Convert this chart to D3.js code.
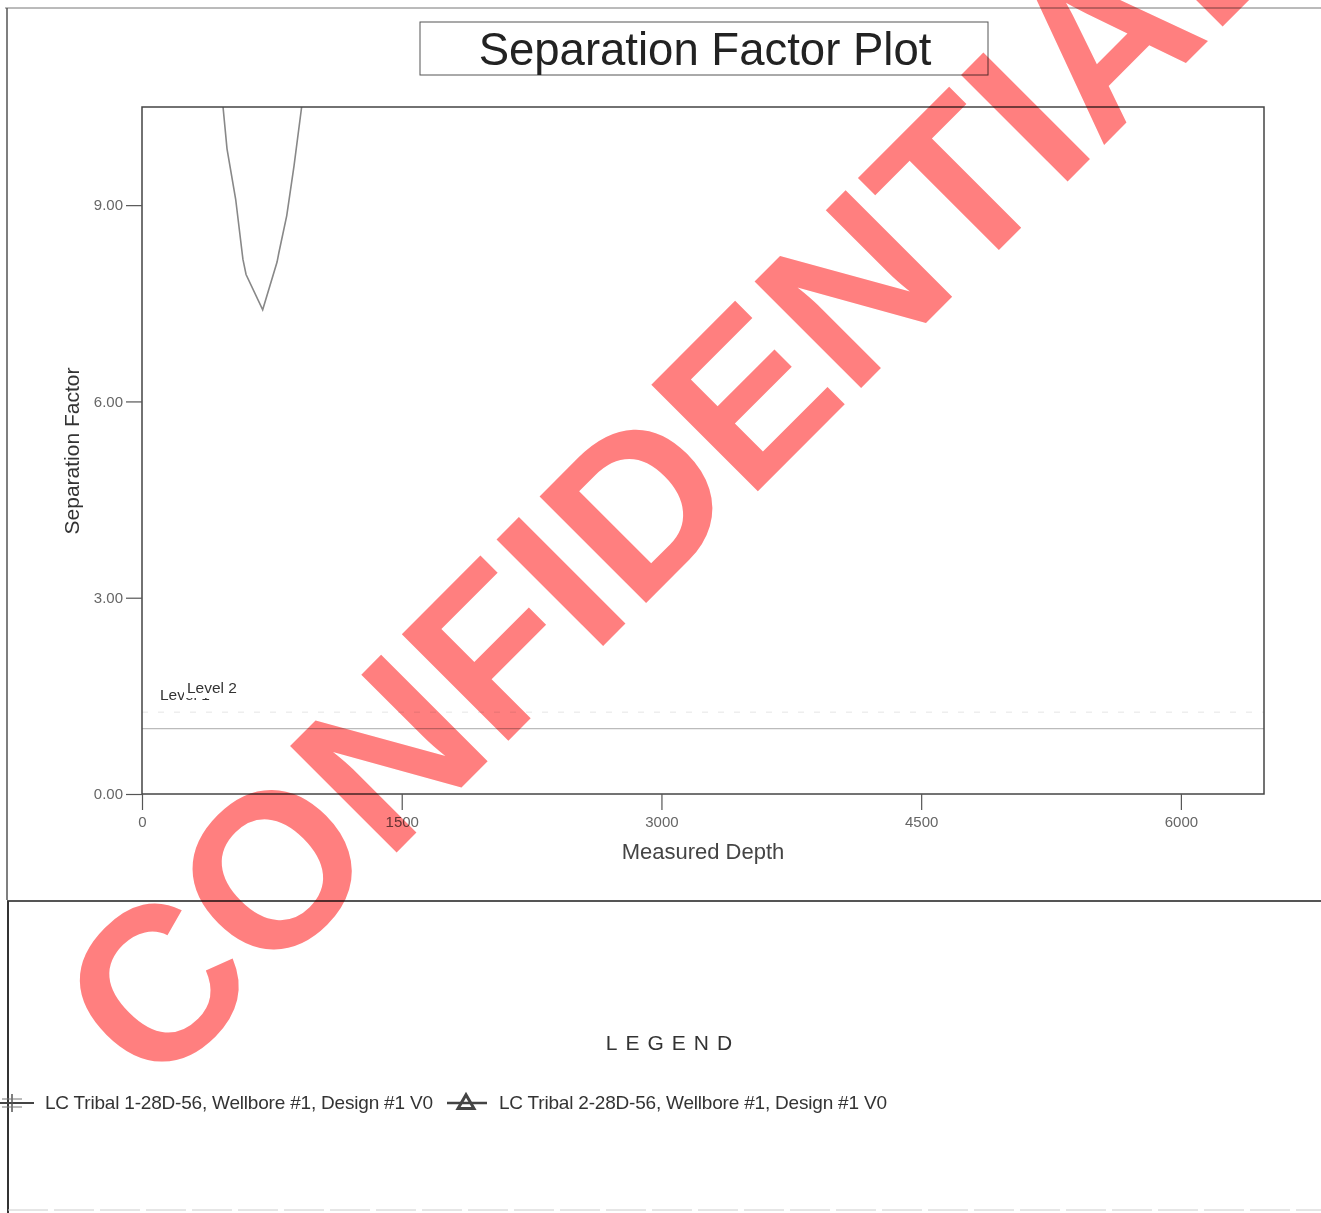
<!DOCTYPE html>
<html>
<head>
<meta charset="utf-8">
<script src="https://cdn.jsdelivr.net/npm/d3@7"></script>
<style>
  body { margin: 0; background: #fff; }
  svg { font-family: "Liberation Sans", Arial, sans-serif; }
</style>
</head>
<body>
<svg id="chart" width="1321" height="1213"></svg>
<script>
// separation factor vs measured depth
var depth = [445, 468, 491, 541, 583, 601, 697, 780, 791, 836, 878, 922, 941];
var sepFactor = [10.96, 10.50, 9.86, 9.09, 8.17, 7.94, 7.40, 8.13, 8.28, 8.84, 9.60, 10.50, 10.93];
var xTicks = [0, 1500, 3000, 4500, 6000];
var yTicks = [0, 3, 6, 9];
var levelValues = [1.25, 1.0];
var levelNames = ["Level 1", "Level 2"];
var legendNames = ["LC Tribal 1-28D-56, Wellbore #1, Design #1 V0", "LC Tribal 2-28D-56, Wellbore #1, Design #1 V0"];

var svg = d3.select("#chart");

var pLeft = 142, pRight = 1264, pTop = 107, pBottom = 794;

var x = d3.scaleLinear().domain([0, 6480]).range([pLeft, pRight]);
var y = d3.scaleLinear().domain([0, 10.5]).range([pBottom, pTop]);

// page frame
svg.append("line").attr("x1", 5).attr("x2", 1321).attr("y1", 8).attr("y2", 8).attr("stroke", "#777").attr("stroke-width", 1);
svg.append("line").attr("x1", 7).attr("x2", 7).attr("y1", 8).attr("y2", 900).attr("stroke", "#555").attr("stroke-width", 1.5);
svg.append("line").attr("x1", 7).attr("x2", 1321).attr("y1", 901).attr("y2", 901).attr("stroke", "#555").attr("stroke-width", 2);
svg.append("line").attr("x1", 8).attr("x2", 8).attr("y1", 901).attr("y2", 1213).attr("stroke", "#333").attr("stroke-width", 2);
svg.append("line").attr("x1", 8).attr("x2", 1321).attr("y1", 1210).attr("y2", 1210).attr("stroke", "#ccc").attr("stroke-width", 1).attr("stroke-dasharray", "40,6");

// title
svg.append("rect").attr("x", 420).attr("y", 22).attr("width", 568).attr("height", 53)
  .attr("fill", "none").attr("stroke", "#555").attr("stroke-width", 1);
svg.append("text").attr("x", 705).attr("y", 65).attr("text-anchor", "middle")
  .attr("font-size", 45.5).attr("fill", "#222").text("Separation Factor Plot");

// clip
svg.append("clipPath").attr("id", "clip").append("rect")
  .attr("x", pLeft).attr("y", pTop).attr("width", pRight - pLeft).attr("height", pBottom - pTop);

var plot = svg.append("g").attr("clip-path", "url(#clip)");

// level lines
plot.append("line").attr("x1", pLeft).attr("x2", pRight)
  .attr("y1", y(levelValues[0])).attr("y2", y(levelValues[0]))
  .attr("stroke", "#eee").attr("stroke-width", 1.5).attr("stroke-dasharray", "6,10");
plot.append("line").attr("x1", pLeft).attr("x2", pRight)
  .attr("y1", y(levelValues[1])).attr("y2", y(levelValues[1]))
  .attr("stroke", "#bbb").attr("stroke-width", 1.2);

// curve
var line = d3.line().x(function (d, i) { return x(depth[i]); }).y(function (d) { return y(d); });
plot.append("path").datum(sepFactor).attr("d", line)
  .attr("fill", "none").attr("stroke", "#888").attr("stroke-width", 1.6);

// level labels (Level 2 sits on top of Level 1 with a white box)
svg.append("text").attr("x", 160).attr("y", 700).attr("font-size", 15.5).attr("fill", "#333").text(levelNames[0]);
svg.append("rect").attr("x", 184).attr("y", 676).attr("width", 62).attr("height", 22).attr("fill", "#fff");
svg.append("text").attr("x", 187).attr("y", 693).attr("font-size", 15.5).attr("fill", "#333").text(levelNames[1]);

// plot box
svg.append("rect").attr("x", pLeft).attr("y", pTop).attr("width", pRight - pLeft).attr("height", pBottom - pTop)
  .attr("fill", "none").attr("stroke", "#444").attr("stroke-width", 1.5);

// axes
var xAxis = svg.append("g").attr("transform", "translate(0," + pBottom + ")")
  .call(d3.axisBottom(x).tickValues(xTicks).tickSize(16).tickPadding(6).tickFormat(d3.format("d")));
var yAxis = svg.append("g").attr("transform", "translate(" + pLeft + ",0)")
  .call(d3.axisLeft(y).tickValues(yTicks).tickSize(16).tickPadding(3).tickFormat(d3.format(".2f")));
[xAxis, yAxis].forEach(function (a) {
  a.select(".domain").remove();
  a.selectAll(".tick line").attr("stroke", "#555").attr("stroke-width", 1.2);
  a.selectAll(".tick text").attr("font-size", 15).attr("fill", "#666")
    .attr("font-family", "'Liberation Sans', Arial, sans-serif");
});

svg.append("text").attr("x", 703).attr("y", 859).attr("text-anchor", "middle")
  .attr("font-size", 22).attr("fill", "#444").text("Measured Depth");
svg.append("text").attr("transform", "translate(79,451) rotate(-90)").attr("text-anchor", "middle")
  .attr("font-size", 21).attr("fill", "#333").text("Separation Factor");

// legend
svg.append("text").attr("x", 673).attr("y", 1050).attr("text-anchor", "middle")
  .attr("font-size", 21).attr("letter-spacing", "8px").attr("fill", "#333").text("LEGEND");

var legendX = [45, 499];
var lg = svg.selectAll(".legend_item").data(legendNames).enter().append("g").attr("class", "legend_item");
lg.append("text").attr("x", function (d, i) { return legendX[i]; }).attr("y", 1109)
  .attr("font-size", 19).attr("fill", "#333").attr("letter-spacing", "-0.2px").text(function (d) { return d; });

// marker 1 (cross, partly off page)
svg.append("line").attr("x1", 0).attr("x2", 34).attr("y1", 1103).attr("y2", 1103).attr("stroke", "#444").attr("stroke-width", 2);
svg.append("line").attr("x1", 12).attr("x2", 12).attr("y1", 1094).attr("y2", 1112).attr("stroke", "#555").attr("stroke-width", 1.5);
svg.append("line").attr("x1", 2).attr("x2", 22).attr("y1", 1099).attr("y2", 1099).attr("stroke", "#777").attr("stroke-width", 1);
svg.append("line").attr("x1", 2).attr("x2", 22).attr("y1", 1107).attr("y2", 1107).attr("stroke", "#777").attr("stroke-width", 1);
// marker 2 (triangle)
svg.append("line").attr("x1", 447).attr("x2", 487).attr("y1", 1103).attr("y2", 1103).attr("stroke", "#444").attr("stroke-width", 2.5);
svg.append("path").attr("d", d3.symbol().type(d3.symbolTriangle).size(110)).attr("transform", "translate(466,1104)")
  .attr("fill", "none").attr("stroke", "#444").attr("stroke-width", 3);

// watermark
svg.append("text").attr("transform", "translate(154,1095) rotate(-45)")
  .attr("font-size", 219).attr("font-weight", "bold").attr("fill", "#ff7f7f")
  .style("mix-blend-mode", "multiply").text("CONFIDENTIAL");
</script>
</body>
</html>
